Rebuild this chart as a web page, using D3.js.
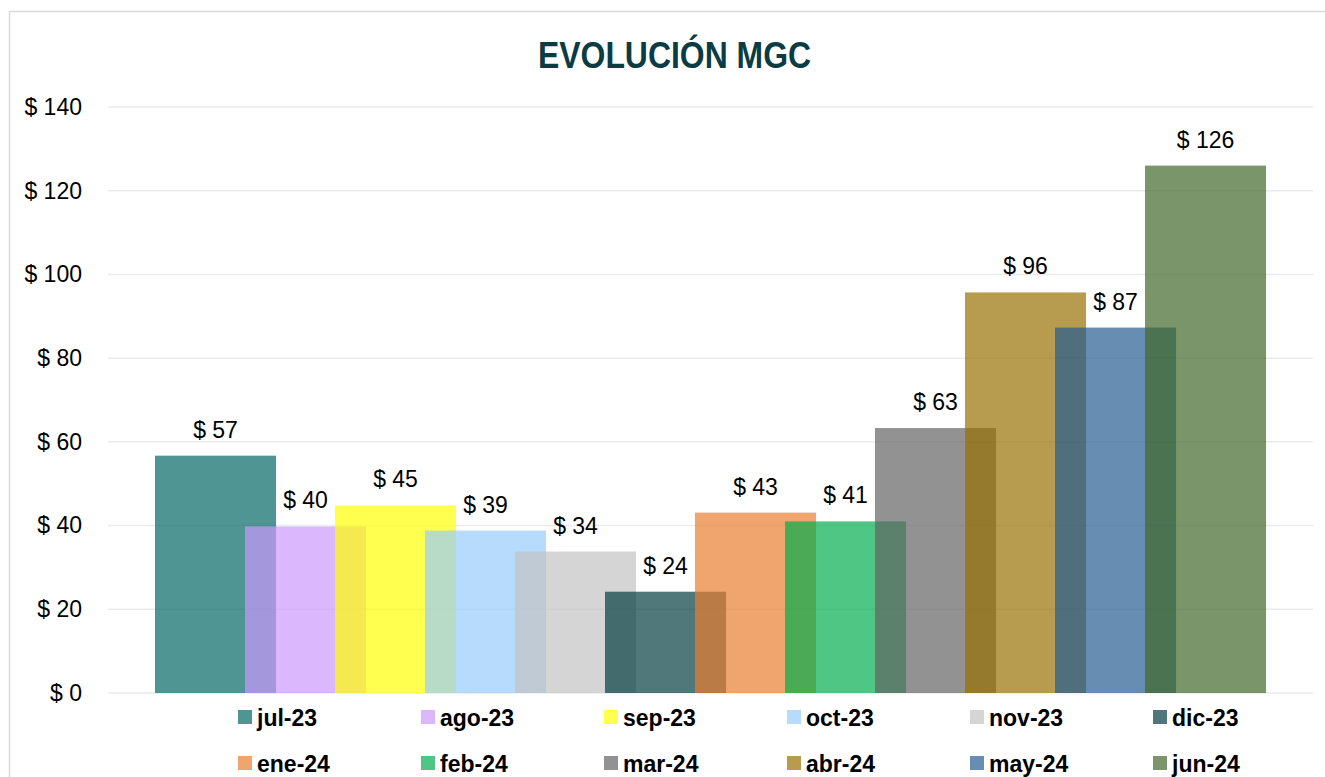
<!DOCTYPE html>
<html>
<head>
<meta charset="utf-8">
<script src="https://cdn.jsdelivr.net/npm/d3@7"></script>
<style>
  body { margin: 0; background: #fff; }
  svg { display: block; font-family: "Liberation Sans Narrow", "Arial Narrow", "Liberation Sans", Arial, sans-serif; }
</style>
</head>
<body>
<svg id="chart"></svg>
<script>
// Data
const months = ["jul-23", "ago-23", "sep-23", "oct-23", "nov-23", "dic-23",
                "ene-24", "feb-24", "mar-24", "abr-24", "may-24", "jun-24"];
const values = [56.7, 39.8, 44.8, 38.8, 33.8, 24.2, 43.1, 41.0, 63.3, 95.7, 87.3, 126.0];
const colors = ["#006564", "#cb98fc", "#ffff00", "#97cbfc", "#c2c2c2", "#013b3e",
                "#e97d2e", "#00ac4b", "#616161", "#977000", "#235a91", "#3e6526"];
const yTicks = [0, 20, 40, 60, 80, 100, 120, 140];

const W = 1325, H = 777;
const barOpacity = 0.69;

const svg = d3.select("#chart")
  .attr("width", W)
  .attr("height", H);

// outer chart border (right/bottom fall outside the view)
svg.append("rect")
  .attr("x", 9.5).attr("y", 11.5)
  .attr("width", W + 20).attr("height", H + 20)
  .attr("fill", "#fff")
  .attr("stroke", "#d9d9d9")
  .attr("stroke-width", 1.5);

// Scales
const yScale = d3.scaleLinear().domain([0, 140]).range([693, 107]);
const xScale = d3.scaleBand().domain(months).range([155, 1235]).paddingInner(0).paddingOuter(0);
const barW = xScale.bandwidth() * 1.345;

// Gridlines
svg.append("g")
  .selectAll("line")
  .data(yTicks)
  .enter().append("line")
  .attr("x1", 108).attr("x2", 1313)
  .attr("y1", d => yScale(d)).attr("y2", d => yScale(d))
  .attr("stroke", "#ebebeb")
  .attr("stroke-width", 1.5);

// Y axis labels
const yAxis = d3.axisLeft(yScale)
  .tickValues(yTicks)
  .tickSize(0)
  .tickPadding(0)
  .tickFormat(d => "$ " + d);

svg.append("g")
  .attr("transform", "translate(82,0)")
  .call(yAxis)
  .call(g => g.select(".domain").remove())
  .call(g => g.selectAll("text")
    .attr("font-family", null)
    .attr("font-size", 23)
    .attr("fill", "#000"));

// Bars (later months drawn on top)
svg.append("g")
  .selectAll("rect")
  .data(months)
  .enter().append("rect")
  .attr("x", d => xScale(d))
  .attr("y", (d, i) => yScale(values[i]))
  .attr("width", barW)
  .attr("height", (d, i) => yScale(0) - yScale(values[i]))
  .attr("fill", (d, i) => colors[i])
  .attr("fill-opacity", barOpacity);

// Value labels
svg.append("g")
  .selectAll("text")
  .data(months)
  .enter().append("text")
  .attr("x", d => xScale(d) + barW / 2)
  .attr("y", (d, i) => yScale(values[i]) - 18)
  .attr("text-anchor", "middle")
  .attr("font-size", 23)
  .attr("fill", "#000")
  .text((d, i) => "$ " + Math.round(values[i]));

// Title
svg.append("text")
  .attr("x", 538)
  .attr("y", 68)
  .attr("font-family", "'Liberation Sans', Arial, sans-serif")
  .attr("font-weight", "bold")
  .attr("font-size", 36)
  .attr("fill", "#0b3c43")
  .attr("textLength", 273)
  .attr("lengthAdjust", "spacingAndGlyphs")
  .text("EVOLUCIÓN MGC");

// Legend
const legend = svg.append("g")
  .selectAll("g")
  .data(months)
  .enter().append("g")
  .attr("transform", (d, i) => "translate(" + (238 + (i % 6) * 183) + "," + (710 + Math.floor(i / 6) * 46) + ")");

legend.append("rect")
  .attr("width", 14).attr("height", 14)
  .attr("fill", (d, i) => colors[i])
  .attr("fill-opacity", barOpacity);

legend.append("text")
  .attr("x", 19)
  .attr("y", 16)
  .attr("font-size", 23)
  .attr("font-weight", "bold")
  .attr("fill", "#000")
  .text(d => d);
</script>
</body>
</html>
